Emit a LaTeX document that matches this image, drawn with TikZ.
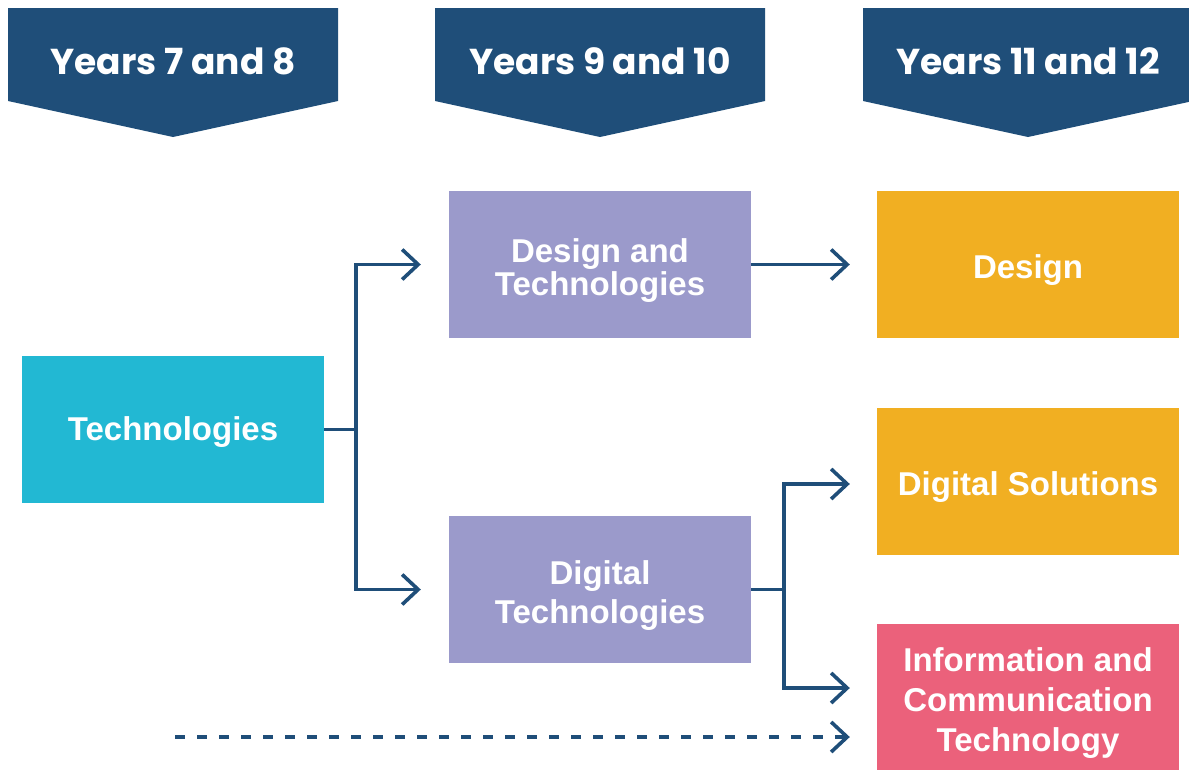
\documentclass[tikz,border=0pt]{standalone}
\usepackage{fontspec}
\setmainfont{Liberation Sans}
\newfontfamily\hdrfont{Poppins}
\usetikzlibrary{arrows.meta,positioning}
\definecolor{navy}{HTML}{1F4E79}
\definecolor{techcyan}{HTML}{22B8D3}
\definecolor{lavender}{HTML}{9B9ACB}
\definecolor{gold}{HTML}{F1AF22}
\definecolor{rose}{HTML}{EB617B}

\begin{document}
\begin{tikzpicture}[x=1pt,y=-1pt,
  box/.style={minimum width=302pt,minimum height=147pt,inner sep=0pt},
  boxtxt/.style={text=white,align=center,inner sep=0pt,yshift=-6pt,font=\bfseries\fontsize{33}{39}\selectfont},
  hdr/.style={text=white,anchor=base,font=\hdrfont\bfseries\fontsize{36}{40}\selectfont},
  conn/.style={navy,line width=3.6pt},
  arr/.style={conn,-{Straight Barb[length=16pt,width=30pt]}}]
  \useasboundingbox (0,0) rectangle (1189,769);
  % year banners
  \fill[navy] (8,8) -- (338,8) -- (338,101) -- (173,137) -- (8,101) -- cycle;
  \fill[navy] (435,8) -- (765,8) -- (765,101) -- (600,137) -- (435,101) -- cycle;
  \fill[navy] (863,8) -- (1193,8) -- (1193,101) -- (1028,137) -- (863,101) -- cycle;
  \node[hdr] (y78) at (173,74) {Years 7 and 8};
  \node[hdr] (y910) at (600,74) {Years 9 and 10};
  \node[hdr] (y1112) at (1028,74) {Years 11 and 12};
  % subjects
  \node[box,fill=techcyan,label={[boxtxt,yshift=3pt]center:Technologies}] (tech) at (173,429.5) {};
  \node[box,fill=lavender,label={[boxtxt,font=\bfseries\fontsize{33}{33}\selectfont]center:{Design and\\Technologies}}] (dat) at (600,264.5) {};
  \node[box,fill=lavender,label={[boxtxt]center:{Digital\\Technologies}}] (dig) at (600,589.5) {};
  \node[box,fill=gold,label={[boxtxt]center:Design}] (des) at (1028,264.5) {};
  \node[box,fill=gold,label={[boxtxt]center:Digital Solutions}] (dsol) at (1028,481.5) {};
  \node[box,fill=rose,label={[boxtxt,font=\bfseries\fontsize{33}{40}\selectfont]center:{Information and\\Communication\\Technology}}] (ict) at (1028,697.5) {};
  % pathways
  \coordinate (j1) at (356,429.5);
  \coordinate (j2) at (784,589.5);
  \coordinate (dstart) at (175,737);
  \coordinate (dend) at ([xshift=-27pt,yshift=-39.5pt]ict.west);
  \draw[conn] (tech.east) -- (j1);
  \draw[arr] (j1) |- ([xshift=-28pt]dat.west);
  \draw[arr] (j1) |- ([xshift=-28pt]dig.west);
  \draw[arr] (dat.east) -- ([xshift=-27pt]des.west);
  \draw[conn] (dig.east) -- (j2);
  \draw[arr] (j2) |- ([xshift=-27pt,yshift=-2.5pt]dsol.west);
  \draw[arr] (j2) |- ([xshift=-27pt,yshift=9.5pt]ict.west);
  \draw[arr,dash pattern=on 10pt off 12pt] (dstart) -- (dend);
\end{tikzpicture}
\end{document}
